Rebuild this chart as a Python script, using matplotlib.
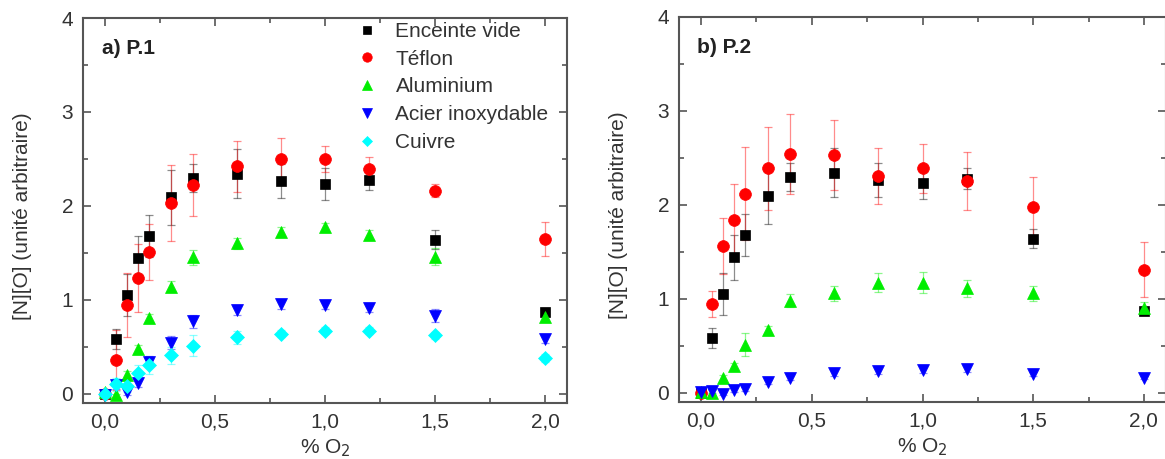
import numpy as np
import matplotlib
matplotlib.use("Agg")
import matplotlib.pyplot as plt
from matplotlib.ticker import MultipleLocator, FuncFormatter

plt.rcParams['font.family'] = ['Liberation Sans', 'DejaVu Sans']

o2 = [0.0, 0.05, 0.1, 0.15, 0.2, 0.3, 0.4, 0.6, 0.8, 1.0, 1.2, 1.5, 2.0]

# panel a) P.1
vide_a = [0.0, 0.58, 1.05, 1.44, 1.68, 2.09, 2.30, 2.34, 2.26, 2.23, 2.28, 1.64, 0.87]
vide_a_err = [0.02, 0.11, 0.22, 0.24, 0.22, 0.29, 0.15, 0.26, 0.18, 0.17, 0.11, 0.10, 0.04]
teflon_a = [0.0, 0.36, 0.94, 1.23, 1.51, 2.03, 2.22, 2.42, 2.50, 2.50, 2.39, 2.16, 1.65]
teflon_a_err = [0.02, 0.32, 0.34, 0.36, 0.30, 0.40, 0.33, 0.27, 0.22, 0.14, 0.13, 0.07, 0.18]
alu_a = [0.02, -0.02, 0.20, 0.47, 0.80, 1.14, 1.45, 1.60, 1.72, 1.77, 1.69, 1.46, 0.82]
alu_a_err = [0.02, 0.02, 0.04, 0.05, 0.05, 0.06, 0.08, 0.06, 0.05, 0.05, 0.05, 0.09, 0.05]
acier_a = [-0.01, 0.09, 0.02, 0.11, 0.34, 0.54, 0.77, 0.89, 0.95, 0.94, 0.91, 0.83, 0.58]
acier_a_err = [0.02, 0.04, 0.03, 0.04, 0.06, 0.07, 0.07, 0.05, 0.05, 0.04, 0.04, 0.07, 0.04]
cuivre_a = [0.0, 0.10, 0.08, 0.22, 0.30, 0.41, 0.51, 0.60, 0.64, 0.67, 0.67, 0.62, 0.38]
cuivre_a_err = [0.02, 0.07, 0.06, 0.08, 0.09, 0.09, 0.11, 0.07, 0.04, 0.04, 0.04, 0.04, 0.04]

# panel b) P.2
vide_b = vide_a
vide_b_err = vide_a_err
teflon_b = [0.0, 0.94, 1.56, 1.84, 2.12, 2.39, 2.54, 2.53, 2.31, 2.39, 2.25, 1.98, 1.31]
teflon_b_err = [0.02, 0.14, 0.30, 0.38, 0.50, 0.44, 0.43, 0.37, 0.30, 0.26, 0.31, 0.32, 0.29]
alu_b = [0.01, 0.0, 0.16, 0.28, 0.51, 0.67, 0.98, 1.06, 1.17, 1.17, 1.11, 1.06, 0.90]
alu_b_err = [0.02, 0.03, 0.03, 0.04, 0.12, 0.04, 0.07, 0.08, 0.10, 0.11, 0.09, 0.08, 0.06]
acier_b = [0.01, 0.02, -0.01, 0.03, 0.04, 0.11, 0.16, 0.21, 0.23, 0.24, 0.25, 0.20, 0.16]
acier_b_err = [0.02, 0.02, 0.02, 0.02, 0.02, 0.02, 0.03, 0.03, 0.03, 0.03, 0.03, 0.02, 0.02]

labels = ["Enceinte vide", "Téflon", "Aluminium", "Acier inoxydable", "Cuivre"]
styles = [("s", "black"), ("o", "#ff0000"), ("^", "#00ee00"), ("v", "#0000ff"), ("D", "#00ffff")]
msizes = [7.5, 8.5, 8.5, 8.5, 7.0]

W, H = 1165, 459
fig = plt.figure(figsize=(W / 100, H / 100), dpi=100)
ax1 = fig.add_axes([83 / W, (H - 403) / H, (567 - 83) / W, (403 - 18) / H])
ax2 = fig.add_axes([679 / W, (H - 402) / H, (1166 - 679) / W, (402 - 17) / H])

spine_col = "#555555"
text_col = "#333333"

def draw(ax, series):
    handles = []
    for i, (y, e) in enumerate(series):
        m, c = styles[i]
        ax.errorbar(o2, y, yerr=e, fmt="none", ecolor=c, alpha=0.45,
                    elinewidth=0.9, capsize=3, capthick=0.9, zorder=2)
        h, = ax.plot(o2, y, linestyle="none", marker=m, color=c, ms=msizes[i],
                     mec=c, mew=0.5, zorder=3, label=labels[i])
        handles.append(h)
    ax.set_xlim(-0.1, 2.1)
    ax.set_ylim(-0.1, 4.0)
    ax.xaxis.set_major_locator(MultipleLocator(0.5))
    ax.xaxis.set_minor_locator(MultipleLocator(0.25))
    ax.yaxis.set_major_locator(MultipleLocator(1))
    ax.yaxis.set_minor_locator(MultipleLocator(0.5))
    ax.xaxis.set_major_formatter(FuncFormatter(lambda v, p: f"{v:.1f}".replace(".", ",")))
    ax.yaxis.set_major_formatter(FuncFormatter(lambda v, p: f"{v:.0f}"))
    ax.tick_params(which="both", direction="in", top=True, right=True,
                   colors=spine_col, labelcolor=text_col, labelsize=15, width=1.2)
    ax.tick_params(which="major", length=6, pad=7)
    ax.tick_params(which="minor", length=3.5)
    for s in ax.spines.values():
        s.set_color(spine_col)
        s.set_linewidth(1.5)
    ax.set_xlabel("% O$_2$", fontsize=15, color=text_col, labelpad=4)
    ax.set_ylabel("[N][O] (unité arbitraire)", fontsize=15, color=text_col)
    ax.yaxis.set_label_coords(-0.105, 0.486)
    return handles

h = draw(ax1, [(vide_a, vide_a_err), (teflon_a, teflon_a_err), (alu_a, alu_a_err),
               (acier_a, acier_a_err), (cuivre_a, cuivre_a_err)])
draw(ax2, [(vide_b, vide_b_err), (teflon_b, teflon_b_err), (alu_b, alu_b_err),
           (acier_b, acier_b_err)])

ax1.text(0.039, 0.922, "a) P.1", transform=ax1.transAxes, fontsize=15,
         fontweight="bold", color="#222222", va="center")
ax2.text(0.037, 0.922, "b) P.2", transform=ax2.transAxes, fontsize=15,
         fontweight="bold", color="#222222", va="center")

leg = ax1.legend(handles=h, loc="upper left", bbox_to_anchor=(0.566, 0.99),
                 frameon=False, fontsize=15, handlelength=1.0, handletextpad=0.85,
                 labelspacing=0.42, borderaxespad=0.0, borderpad=0.0, markerscale=0.8)
for t in leg.get_texts():
    t.set_color(text_col)

fig.savefig("out.png", dpi=100)
